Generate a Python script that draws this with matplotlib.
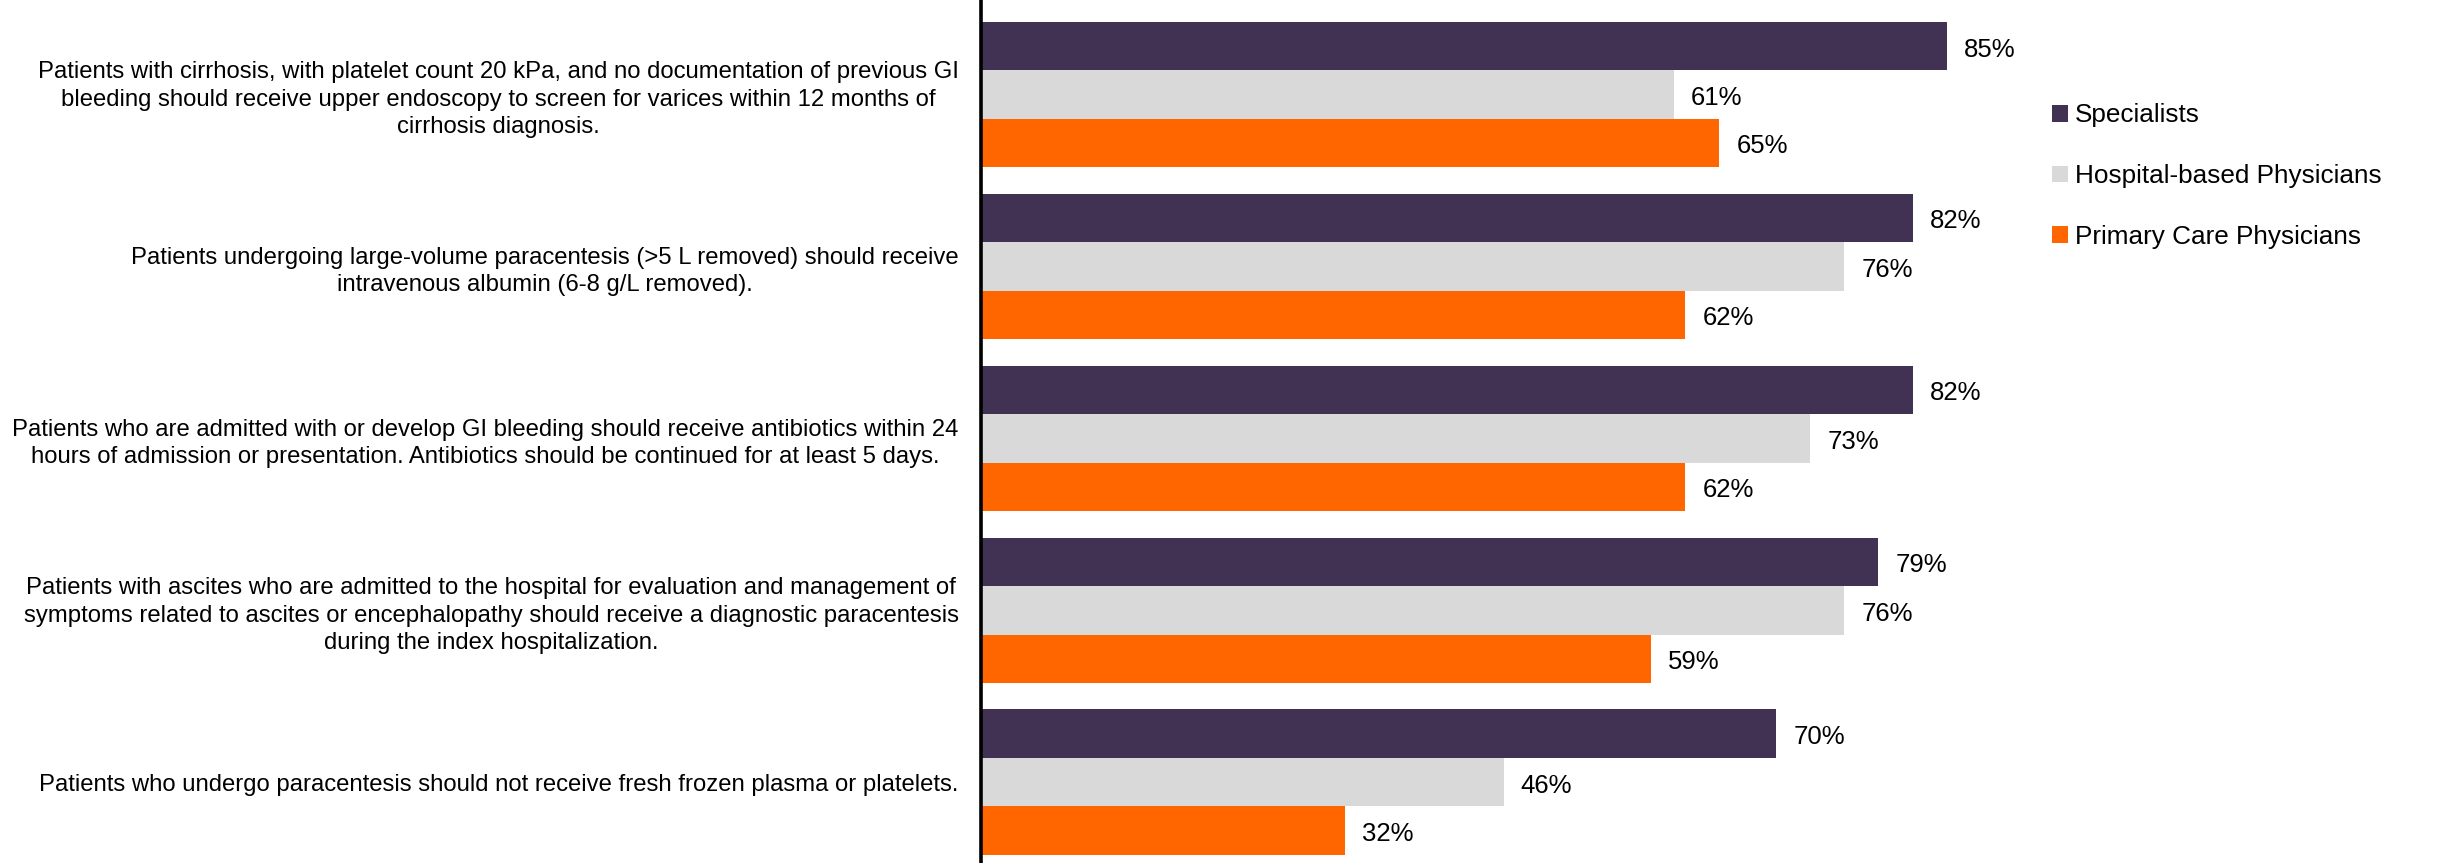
import matplotlib
matplotlib.use("Agg")
import matplotlib.pyplot as plt
import numpy as np
from matplotlib.patches import Patch

categories = [
    "Patients with cirrhosis, with platelet count 20 kPa, and no documentation of previous GI\nbleeding should receive upper endoscopy to screen for varices within 12 months of\ncirrhosis diagnosis.",
    "Patients undergoing large-volume paracentesis (>5 L removed) should receive\nintravenous albumin (6-8 g/L removed).",
    "Patients who are admitted with or develop GI bleeding should receive antibiotics within 24\nhours of admission or presentation. Antibiotics should be continued for at least 5 days.",
    "Patients with ascites who are admitted to the hospital for evaluation and management of\nsymptoms related to ascites or encephalopathy should receive a diagnostic paracentesis\nduring the index hospitalization.",
    "Patients who undergo paracentesis should not receive fresh frozen plasma or platelets.",
]
series_names = ["Specialists", "Hospital-based Physicians", "Primary Care Physicians"]
specialists = [85, 82, 82, 79, 70]
hospital = [61, 76, 73, 76, 46]
primary = [65, 62, 62, 59, 32]
colors = ["#413152", "#D9D9D9", "#FF6600"]

plt.rcParams['font.family'] = ['Liberation Sans', 'DejaVu Sans']

W, H = 2450, 863
fig = plt.figure(figsize=(W / 100, H / 100), dpi=100)
ax = fig.add_axes([981 / W, 0, (2117 - 981) / W, 1])

y = np.arange(len(categories))
bh = 0.282
for i, (vals, c) in enumerate(zip([specialists, hospital, primary], colors)):
    pos = y + (i - 1) * bh
    ax.barh(pos, vals, height=bh, color=c, edgecolor='none')
    for p, v in zip(pos, vals):
        ax.text(v + 1.5, p + 0.02, f"{v}%", va='center', ha='left', fontsize=18.5, color='black')

ax.set_xlim(0, 100)
ax.set_ylim(4.47, -0.55)
ax.set_yticks(y)
ax.set_yticklabels(categories, fontsize=17.2, ha='right', multialignment='center', linespacing=1.32)
ax.tick_params(axis='y', length=0, pad=16)
ax.set_xticks([])
for s in ['top', 'right', 'bottom']:
    ax.spines[s].set_visible(False)
ax.spines['left'].set_linewidth(2.6)
ax.spines['left'].set_color('black')

handles = [Patch(facecolor=c, edgecolor='none') for c in colors]
fig.legend(handles, series_names, loc='center left', bbox_to_anchor=(2042 / W, 1 - 176 / H),
           frameon=False, fontsize=18.8, handlelength=0.6, handleheight=0.6,
           handletextpad=0.25, labelspacing=1.4, borderaxespad=0)

fig.savefig("out.png", dpi=100)
